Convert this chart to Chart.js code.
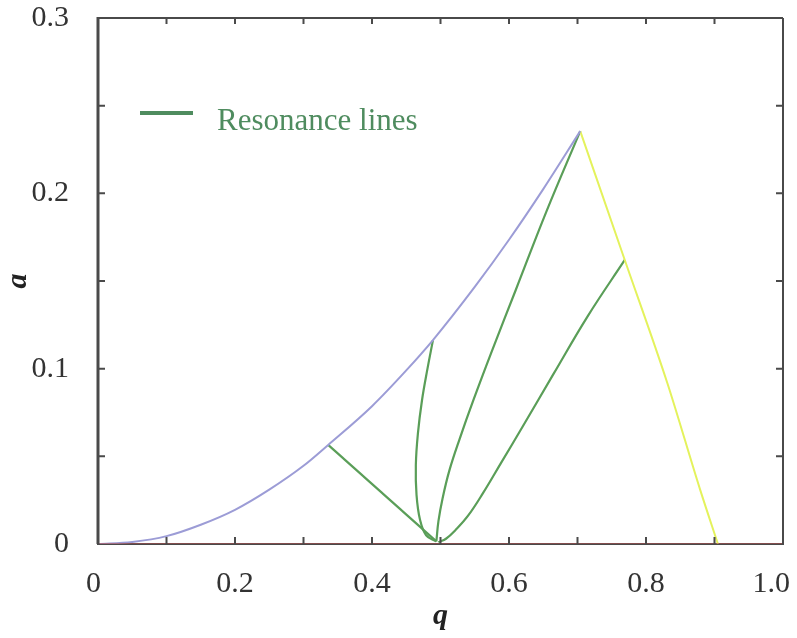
<!DOCTYPE html>
<html>
<head>
<meta charset="utf-8">
<script src="https://cdn.jsdelivr.net/npm/chart.js@4"></script>
<style>
  html, body { margin: 0; padding: 0; background: #fff; }
  #wrap { width: 797px; height: 638px; }
</style>
</head>
<body>
<div id="wrap"><canvas id="myChart" width="797" height="638"></canvas></div>
<script>
/* данные: q по горизонтали, a по вертикали */
const blueQ = [0, 0.05, 0.1, 0.15, 0.2, 0.25, 0.3, 0.336, 0.4, 0.45, 0.489, 0.55, 0.6, 0.65, 0.704];
const blueA = [0, 0.0012, 0.0045, 0.011, 0.0195, 0.031, 0.0446, 0.0565, 0.0786, 0.099, 0.1163, 0.1466, 0.1735, 0.2024, 0.2355];

const yellowQ = [0.704, 0.769, 0.831, 0.879, 0.905];
const yellowA = [0.2355, 0.162, 0.092, 0.031, 0];

const redQ = [0.0, 1.0];
const redA = [0, 0];

// резонансные линии
const res1Q = [0.336, 0.494];
const res1A = [0.0565, 0.0015];
const res2Q = [0.489, 0.481, 0.473, 0.467, 0.464, 0.465, 0.470, 0.479, 0.494];
const res2A = [0.1163, 0.100, 0.082, 0.063, 0.045, 0.028, 0.014, 0.005, 0.0015];
const res3Q = [0.494, 0.497, 0.503, 0.513, 0.528, 0.548, 0.575, 0.610, 0.655, 0.704];
const res3A = [0.0015, 0.013, 0.026, 0.042, 0.060, 0.082, 0.110, 0.145, 0.190, 0.2355];
const res4Q = [0.497, 0.508, 0.522, 0.540, 0.562, 0.588, 0.620, 0.665, 0.715, 0.769];
const res4A = [0.001, 0.003, 0.008, 0.016, 0.029, 0.046, 0.067, 0.097, 0.130, 0.162];

const xTicks = [0, 0.1, 0.2, 0.3, 0.4, 0.5, 0.6, 0.7, 0.8, 0.9, 1.0];
const xLabels = ['0', '', '0.2', '', '0.4', '', '0.6', '', '0.8', '', '1.0'];
const yTicks = [0, 0.05, 0.1, 0.15, 0.2, 0.25, 0.3];
const yLabels = { 0: '0', 0.1: '0.1', 0.2: '0.2', 0.3: '0.3' };

const legendText = 'Resonance lines';

const serif = "'Liberation Serif', 'DejaVu Serif', serif";
const axisColor = '#4a4a4a';
const green = '#5a9e58';

function pts(xs, ys) {
      return xs.map((x, i) => ({ x: x, y: ys[i] }));
}

function line(label, xs, ys, color, width, tension, mode) {
      return {
            label: label,
            data: pts(xs, ys),
            showLine: true,
            borderColor: color,
            borderWidth: width,
            pointRadius: 0,
            fill: false,
            tension: tension,
            cubicInterpolationMode: mode || 'default'
      };
}

/* рамка, внутренние засечки, подписи оси q и легенда */
const framePlugin = {
      id: 'frame',
      afterDatasetsDraw(chart) {
            const ctx = chart.ctx;
            const a = chart.chartArea;
            const xs = chart.scales.x;
            const ys = chart.scales.y;
            ctx.save();
            ctx.strokeStyle = axisColor;
            ctx.lineWidth = 2;
            ctx.beginPath();
            ctx.moveTo(a.left, a.top); ctx.lineTo(a.right, a.top);
            ctx.moveTo(a.right, a.top); ctx.lineTo(a.right, a.bottom);
            ctx.stroke();
            ctx.lineWidth = 3;
            ctx.beginPath();
            ctx.moveTo(a.left, a.top - 1); ctx.lineTo(a.left, a.bottom);
            ctx.stroke();

            ctx.lineWidth = 2;
            ctx.beginPath();
            xTicks.slice(1, -1).forEach(v => {
                  const px = xs.getPixelForValue(v);
                  ctx.moveTo(px, a.bottom); ctx.lineTo(px, a.bottom - 7);
                  ctx.moveTo(px, a.top); ctx.lineTo(px, a.top + 6);
            });
            yTicks.slice(1, -1).forEach(v => {
                  const py = ys.getPixelForValue(v);
                  ctx.moveTo(a.left, py); ctx.lineTo(a.left + 7, py);
                  ctx.moveTo(a.right, py); ctx.lineTo(a.right - 7, py);
            });
            ctx.stroke();

            ctx.fillStyle = '#333';
            ctx.font = '30px ' + serif;
            ctx.textBaseline = 'alphabetic';
            xTicks.forEach((v, i) => {
                  if (!xLabels[i]) return;
                  const px = xs.getPixelForValue(v);
                  if (i === 0) { ctx.textAlign = 'right'; ctx.fillText(xLabels[i], px + 3, a.bottom + 48); }
                  else if (i === xTicks.length - 1) { ctx.textAlign = 'right'; ctx.fillText(xLabels[i], px + 7, a.bottom + 48); }
                  else { ctx.textAlign = 'center'; ctx.fillText(xLabels[i], px, a.bottom + 48); }
            });

            // легенда
            ctx.strokeStyle = '#4f8c5f';
            ctx.lineWidth = 4;
            ctx.beginPath();
            ctx.moveTo(a.left + 42, a.top + 95); ctx.lineTo(a.left + 95, a.top + 95);
            ctx.stroke();
            ctx.fillStyle = '#4f8c5f';
            ctx.font = '31px ' + serif;
            ctx.textAlign = 'left';
            ctx.fillText(legendText, a.left + 119, a.top + 112);
            ctx.restore();
      }
};

const canvaNode = document.getElementById('myChart');

const chart = new Chart(canvaNode, {
      type: 'scatter',
      data: {
            datasets: [
                  line('red', redQ, redA, 'rgba(170, 80, 80, 0.8)', 1.5, 0),
                  line('blue', blueQ, blueA, '#9c9cd6', 2, 0.4, 'monotone'),
                  line('yellow', yellowQ, yellowA, '#e4f25c', 2, 0.4, 'monotone'),
                  line(legendText, res1Q, res1A, green, 2.2, 0),
                  line(legendText, res2Q, res2A, green, 2.2, 0.4),
                  line(legendText, res3Q, res3A, green, 2.2, 0.4),
                  line(legendText, res4Q, res4A, green, 2.2, 0.4)
            ]
      },
      options: {
            responsive: false,
            animation: false,
            layout: { padding: { top: 18, right: 14, left: 0, bottom: 0 } },
            plugins: {
                  legend: { display: false },
                  tooltip: { enabled: false }
            },
            scales: {
                  x: {
                        type: 'linear',
                        min: 0,
                        max: 1,
                        grid: { display: false, drawTicks: false },
                        border: { display: true, color: axisColor, width: 2 },
                        ticks: { display: false, stepSize: 0.1 },
                        title: {
                              display: true,
                              text: 'q',
                              color: '#222',
                              font: { family: serif, size: 30, style: 'italic', weight: 'bold' },
                              padding: { top: 0, bottom: 4 }
                        },
                        afterFit(scale) { scale.height = 94; scale.paddingLeft = 0; scale.paddingRight = 0; }
                  },
                  y: {
                        type: 'linear',
                        min: 0,
                        max: 0.3,
                        grid: { display: false, drawTicks: false },
                        border: { display: false },
                        ticks: {
                              stepSize: 0.1,
                              padding: 29,
                              color: '#333',
                              font: { family: serif, size: 30 },
                              callback: (v) => yLabels[Math.round(v * 10) / 10] ?? ''
                        },
                        title: {
                              display: true,
                              text: 'a',
                              color: '#222',
                              font: { family: serif, size: 30, style: 'italic', weight: 'bold' },
                              padding: { top: 0, bottom: 0 }
                        },
                        afterFit(scale) { scale.width = 98; scale.paddingTop = 0; scale.paddingBottom = 0; }
                  }
            }
      },
      plugins: [framePlugin]
});
</script>
</body>
</html>
